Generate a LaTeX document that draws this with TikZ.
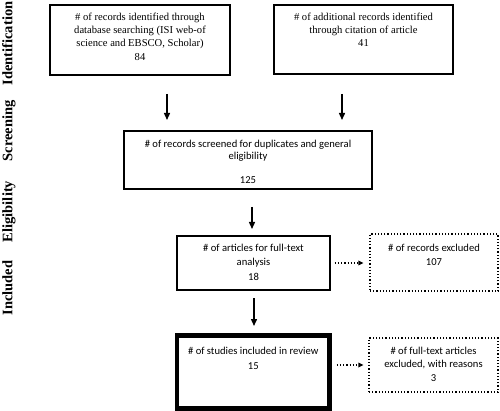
\documentclass[tikz,border=0pt]{standalone}
\usepackage{fontspec}
\setmainfont{Liberation Serif}
\newfontfamily\carl{Carlito}
\usetikzlibrary{arrows.meta}
\begin{document}
\begin{tikzpicture}[x=1pt,y=-1pt,
  box/.style={draw, line width=1.4pt, inner sep=0pt},
  dbox/.style={draw, line width=1.2pt, dotted, inner sep=0pt},
  serif/.style={font=\fontsize{10.6}{13}\selectfont, align=center, inner sep=0pt, anchor=north},
  sans/.style={font=\carl\fontsize{10.6}{13.5}\selectfont, align=center, inner sep=0pt, anchor=north},
  side/.style={font=\fontsize{14.5}{16}\selectfont\bfseries, rotate=90, anchor=base, inner sep=0pt},
  arr/.style={line width=1.4pt, -{Triangle[length=7pt,width=6pt]}},
  darr/.style={line width=1.2pt, dotted, -{Triangle[length=5pt,width=5pt,line width=0pt]}}]
\useasboundingbox (0,0) rectangle (500,411);
\fill[white] (0,0) rectangle (500,411);
% side labels
\node[side] (sI) at (12.5,43.5) {Identification};
\node[side] (sS) at (12.5,131) {Screening};
\node[side] (sE) at (12.5,211.5) {Eligibility};
\node[side] (sN) at (12.5,288) {Included};
% boxes
\node[box, minimum width=180pt, minimum height=70pt] (b1) at (140,40) {};
\node[serif] (t1) at (140,13) {\# of records identified through\\database searching (ISI web-of\\science and EBSCO, Scholar)\\[1pt]84};
\node[box, minimum width=179pt, minimum height=69pt] (b2) at (363.5,39.5) {};
\node[serif] (t2) at (363.5,13) {\# of additional records identified\\through citation of article\\41};
\node[box, minimum width=248pt, minimum height=58pt] (b3) at (248,160) {};
\node[sans, font=\carl\fontsize{10.6}{12.3}\selectfont] (t3) at (248,139.5) {\# of records screened for duplicates and general\\eligibility\\[12pt]125};
\node[box, minimum width=153pt, minimum height=54pt] (b4) at (253.5,263) {};
\node[sans, font=\carl\fontsize{10.6}{14.5}\selectfont] (t4) at (253.5,243.5) {\# of articles for full-text\\analysis\\18};
\node[dbox, minimum width=128pt, minimum height=57pt] (b5) at (434,262.5) {};
\node[sans, font=\carl\fontsize{10.6}{14}\selectfont] (t5) at (434,243.5) {\# of records excluded\\107};
\node[draw, line width=4.5pt, inner sep=0pt, minimum width=152.5pt, minimum height=73pt] (b6) at (253.25,372) {};
\node[sans, font=\carl\fontsize{10.6}{15}\selectfont] (t6) at (253.25,346.5) {\# of studies included in review\\15};
\node[dbox, minimum width=129pt, minimum height=54pt] (b7) at (433.5,365) {};
\node[sans, font=\carl\fontsize{10.6}{13.5}\selectfont] (t7) at (433.5,346.5) {\# of full-text articles\\excluded, with reasons\\3};
% arrow anchor coordinates
\coordinate (a1s) at (167,94);  \coordinate (a1e) at (167,120);
\coordinate (a2s) at (342,94);  \coordinate (a2e) at (342,120);
\coordinate (a3s) at (252,207); \coordinate (a3e) at (252,229);
\coordinate (a4s) at (254,298); \coordinate (a4e) at (254,326);
\draw[arr] (a1s) -- (a1e);
\draw[arr] (a2s) -- (a2e);
\draw[arr] (a3s) -- (a3e);
\draw[arr] (a4s) -- (a4e);
\draw[darr] ([xshift=4pt]b4.east) -- ([xshift=-6pt]b5.west |- b4.east);
\draw[darr] ([xshift=5pt]b6.east |- b7.west) -- ([xshift=-5pt]b7.west);
\end{tikzpicture}
\end{document}
